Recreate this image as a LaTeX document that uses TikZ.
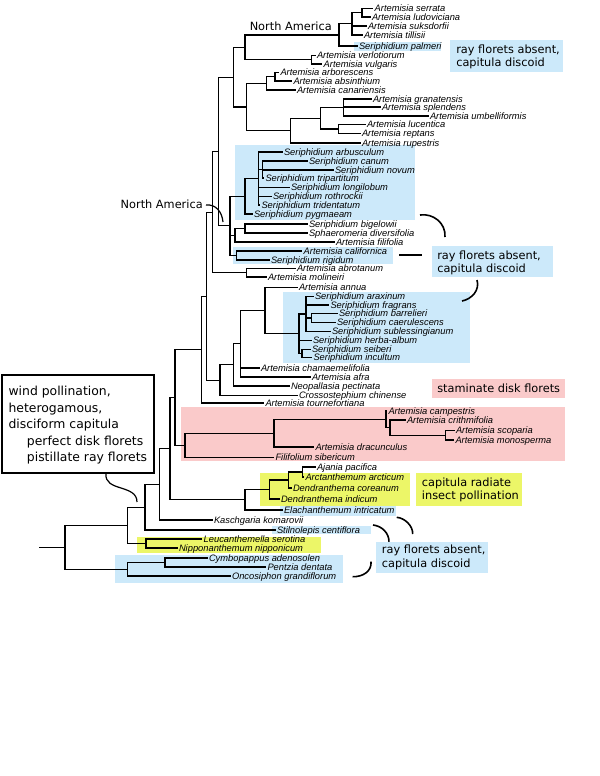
\documentclass[tikz,border=0pt]{standalone}
\usepackage{fontspec}
\setmainfont{Liberation Sans}
\newfontfamily\labfont{DejaVu Sans}
\definecolor{bluebg}{RGB}{204,233,250}
\definecolor{pinkbg}{RGB}{250,202,202}
\definecolor{yelbg}{RGB}{236,246,104}
\newcommand\lf[4]{\coordinate (#1) at (#2,#3); \node[tx] (t#1) at ([yshift=-2.3pt]#1) {#4};}
\newcommand\nd[3]{\coordinate (#1) at (#2,#3);}
\newcommand\clade[4]{\draw[br] (#1 |- #2) -- (#1 |- #3); \foreach \c in {#4}{\draw[br] (#1 |- \c) -- (\c);}}
\begin{document}
\begin{tikzpicture}[x=0.75pt,y=-0.75pt,
  br/.style={line width=0.85pt,line cap=rect},
  tx/.style={anchor=base west,inner xsep=1.3pt,inner ysep=0pt,font=\fontsize{7}{8}\selectfont\itshape},
  lbl/.style={anchor=west,align=left,inner sep=0pt,font=\labfont\fontsize{8.5}{10}\selectfont},
  crv/.style={line width=1.2pt}]
\useasboundingbox (0,0) rectangle (600,776);
% background boxes
\fill[bluebg] (354,42) rectangle (441,51);
\fill[bluebg] (235,145) rectangle (415,220);
\fill[bluebg] (233,246.5) rectangle (393,264);
\fill[bluebg] (283,292) rectangle (470,363);
\fill[pinkbg] (181,407) rectangle (565,461);
\fill[yelbg] (260,473) rectangle (410,506);
\fill[bluebg] (280,506) rectangle (396,516);
\fill[bluebg] (272,526) rectangle (371,534);
\fill[yelbg] (137,537) rectangle (321,553);
\fill[bluebg] (115,555) rectangle (343,583);
% labels
\fill[bluebg] (450,40) rectangle (563,72);
\node[lbl] (lab1) at (456,56.7) {ray florets absent,\\capitula discoid};
\fill[bluebg] (432,246) rectangle (553,277);
\node[lbl] (lab2) at (437,263) {ray florets absent,\\capitula discoid};
\fill[pinkbg] (432,379) rectangle (565,398);
\node[lbl] (lab3) at (437,388.5) {staminate disk florets};
\fill[yelbg] (416,473) rectangle (522,506);
\node[lbl] (lab4) at (421.7,490) {capitula radiate\\insect pollination};
\fill[bluebg] (376,542) rectangle (488,573);
\node[lbl] (lab5) at (381.7,557.2) {ray florets absent,\\capitula discoid};
\draw[line width=0.9pt,fill=white] (2,375) rectangle (154,473);
\node[lbl,font=\labfont\fontsize{9.3}{12.4}\selectfont] (lab6) at (8.3,425.3)
 {wind pollination,\\heterogamous,\\disciform capitula\\\hspace*{13.8pt}perfect disk florets\\\hspace*{13.8pt}pistillate ray florets};
\node[lbl,anchor=west] (na1) at (249.5,26.7) {North America};
\node[lbl,anchor=east] (na2) at (203,204.5) {North America};
% leaves
\lf{s1}{372.7}{8.5}{Artemisia serrata}
\lf{s2}{370}{17}{Artemisia ludoviciana}
\lf{s3}{366}{26}{Artemisia suksdorfii}
\lf{s4}{362}{35}{Artemisia tillisii}
\lf{s5}{357}{46}{Seriphidium palmeri}
\lf{s6}{315}{55.5}{Artemisia verlotiorum}
\lf{s7}{321.7}{64}{Artemisia vulgaris}
\lf{s8}{278.5}{72.5}{Artemisia arborescens}
\lf{s9}{291.5}{81}{Artemisia absinthium}
\lf{s10}{295}{90}{Artemisia canariensis}
\lf{s11}{371}{99}{Artemisia granatensis}
\lf{s12}{380}{107}{Artemisia splendens}
\lf{s13}{428}{116}{Artemisia umbelliformis}
\lf{s14}{365}{124.5}{Artemisia lucentica}
\lf{s15}{360}{133.5}{Artemisia reptans}
\lf{s16}{360}{143}{Artemisia rupestris}
\lf{s17}{282}{152}{Seriphidium arbusculum}
\lf{s18}{307}{161}{Seriphidium canum}
\lf{s19}{333}{170}{Seriphidium novum}
\lf{s20}{263.5}{178}{Seriphidium tripartitum}
\lf{s21}{289}{187.5}{Seriphidium longilobum}
\lf{s22}{271}{196.5}{Seriphidium rothrockii}
\lf{s23}{259.5}{205}{Seriphidium tridentatum}
\lf{s24}{252}{214}{Seriphidium pygmaeam}
\lf{s25}{307}{224}{Seriphidium bigelowii}
\lf{s26}{307}{233}{Sphaeromeria diversifolia}
\lf{s27}{334}{242}{Artemisia filifolia}
\lf{s28}{301.7}{251}{Artemisia californica}
\lf{s29}{269}{260}{Seriphidium rigidum}
\lf{s30}{295}{268.5}{Artemisia abrotanum}
\lf{s31}{266}{277}{Artemisia molineiri}
\lf{s32}{297}{287.5}{Artemisia annua}
\lf{s33}{313}{296.5}{Seriphidium araxinum}
\lf{s34}{328.5}{305}{Seriphidium fragrans}
\lf{s35}{337}{313.5}{Seriphidium barrelieri}
\lf{s36}{335}{322.5}{Seriphidium caerulescens}
\lf{s37}{330}{331.5}{Seriphidium sublessingianum}
\lf{s38}{311}{340.5}{Seriphidium herba-album}
\lf{s39}{310}{349.3}{Seriphidium seiberi}
\lf{s40}{311.5}{357.5}{Seriphidium incultum}
\lf{s41}{259}{368}{Artemisia chamaemelifolia}
\lf{s42}{310}{377}{Artemisia afra}
\lf{s43}{289}{386}{Neopallasia pectinata}
\lf{s44}{297}{395.5}{Crossostephium chinense}
\lf{s45}{263.5}{403}{Artemisia tournefortiana}
\lf{s46}{386.5}{411}{Artemisia campestris}
\lf{s47}{405}{420}{Artemisia crithmifolia}
\lf{s48}{454}{430.5}{Artemisia scoparia}
\lf{s49}{453.5}{440}{Artemisia monosperma}
\lf{s50}{313.5}{447}{Artemisia dracunculus}
\lf{s51}{273.5}{457.5}{Filifolium sibericum}
\lf{s52}{315}{467}{Ajania pacifica}
\lf{s53}{303.5}{477}{Arctanthemum arcticum}
\lf{s54}{291}{488}{Dendranthema coreanum}
\lf{s55}{279}{499}{Dendranthema indicum}
\lf{s56}{282}{510}{Elachanthemum intricatum}
\lf{s57}{212}{520}{Kaschgaria komarovii}
\lf{s58}{275}{530}{Stilnolepis centiflora}
\lf{s59}{201.7}{539}{Leucanthemella serotina}
\lf{s60}{177}{548}{Nipponanthemum nipponicum}
\lf{s61}{207}{558}{Cymbopappus adenosolen}
\lf{s62}{265.5}{567}{Pentzia dentata}
\lf{s63}{230}{576}{Oncosiphon grandiflorum}
% internal nodes
\nd{nA}{362}{12.75}
\nd{nB}{352}{23.9}
\nd{nC}{339}{35}
\nd{nD}{311.7}{59.75}
\nd{nE}{245}{47.4}
\nd{nFa}{275}{76.75}
\nd{nFb}{266.7}{83.4}
\nd{nGr}{343.3}{107.5}
\nd{nLu}{338.3}{129}
\nd{nMa}{320.7}{118.25}
\nd{nMb}{290.7}{130.6}
\nd{nG}{246.7}{107}
\nd{nH}{233.3}{77.2}
\nd{nSb}{262.7}{169.5}
\nd{nSc}{258.3}{178.5}
\nd{nSd}{245}{196.25}
\nd{nBa}{245}{228.5}
\nd{nBg}{235}{235.25}
\nd{nCa}{236.7}{255.5}
\nd{nJ}{230}{225.9}
\nd{nI}{218.3}{151.5}
\nd{nAb}{246.5}{272.75}
\nd{nK}{212.7}{212.1}
\nd{nBC}{311.7}{318}
\nd{nSa}{306}{314}
\nd{nSf}{302}{353.4}
\nd{nSe}{299}{333.7}
\nd{nAN}{265}{310.6}
\nd{nTa}{240.5}{343.8}
\nd{nTb}{233.3}{364.9}
\nd{nTc}{220}{380.2}
\nd{nTd}{206.7}{296.2}
\nd{nTe}{201.7}{349.6}
\nd{nCc}{445.7}{435.25}
\nd{nCb}{390}{427.6}
\nd{nCa2}{386}{419.3}
\nd{nDa}{274}{433.2}
\nd{nDb}{185}{445.3}
\nd{nP}{175}{397.5}
\nd{nNa}{302.7}{472}
\nd{nNb}{288.3}{480}
\nd{nNc}{269.3}{489.5}
\nd{nNd}{245}{499.75}
\nd{nR}{170}{448.6}
\nd{nUa}{159.3}{484.3}
\nd{nUb}{145}{507.2}
\nd{nLN}{146}{543.5}
\nd{nUc}{127.7}{525.3}
\nd{nCYa}{165}{562.5}
\nd{nCY}{127.7}{569.2}
\nd{nRoot}{65}{547.3}
\nd{nBase}{39.3}{547.3}
% clades
\clade{nA}{s1}{s2}{s1,s2}
\clade{nB}{nA}{s4}{nA,s3,s4}
\clade{nC}{nB}{s5}{nB,s5}
\clade{nD}{s6}{s7}{s6,s7}
\clade{nE}{nC}{nD}{nC,nD}
\clade{nFa}{s8}{s9}{s8,s9}
\clade{nFb}{nFa}{s10}{nFa,s10}
\clade{nGr}{s11}{s13}{s11,s12,s13}
\clade{nLu}{s14}{s15}{s14,s15}
\clade{nMa}{nGr}{nLu}{nGr,nLu}
\clade{nMb}{nMa}{s16}{nMa,s16}
\clade{nG}{nFb}{nMb}{nFb,nMb}
\clade{nH}{nE}{nG}{nE,nG}
\clade{nSb}{s18}{s20}{s18,s19,s20}
\clade{nSc}{s17}{s23}{s17,nSb,s21,s22,s23}
\clade{nSd}{nSc}{s24}{nSc,s24}
\clade{nBa}{s25}{s26}{s25,s26}
\clade{nBg}{nBa}{s27}{nBa,s27}
\clade{nCa}{s28}{s29}{s28,s29}
\clade{nJ}{nSd}{nCa}{nSd,nBg,nCa}
\clade{nI}{nH}{nJ}{nH,nJ}
\clade{nAb}{s30}{s31}{s30,s31}
\clade{nK}{nI}{nAb}{nI,nAb}
\clade{nBC}{s35}{s36}{s35,s36}
\clade{nSa}{s33}{s37}{s33,s34,nBC,s37}
\clade{nSf}{s39}{s40}{s39,s40}
\clade{nSe}{nSa}{nSf}{nSa,s38,nSf}
\clade{nAN}{s32}{nSe}{s32,nSe}
\clade{nTa}{nAN}{s42}{nAN,s41,s42}
\clade{nTb}{nTa}{s43}{nTa,s43}
\clade{nTc}{nTb}{s44}{nTb,s44}
\clade{nTd}{nK}{nTc}{nK,nTc}
\clade{nTe}{nTd}{s45}{nTd,s45}
\clade{nCc}{s48}{s49}{s48,s49}
\clade{nCb}{s47}{nCc}{s47,nCc}
\clade{nCa2}{s46}{nCb}{s46,nCb}
\clade{nDa}{nCa2}{s50}{nCa2,s50}
\clade{nDb}{nDa}{s51}{nDa,s51}
\clade{nP}{nTe}{nDb}{nTe,nDb}
\clade{nNa}{s52}{s53}{s52,s53}
\clade{nNb}{nNa}{s54}{nNa,s54}
\clade{nNc}{nNb}{s55}{nNb,s55}
\clade{nNd}{nNc}{s56}{nNc,s56}
\clade{nR}{nP}{nNd}{nP,nNd}
\clade{nUa}{nR}{s57}{nR,s57}
\clade{nUb}{nUa}{s58}{nUa,s58}
\clade{nLN}{s59}{s60}{s59,s60}
\clade{nUc}{nUb}{nLN}{nUb,nLN}
\clade{nCYa}{s61}{s62}{s61,s62}
\clade{nCY}{nCYa}{s63}{nCYa,s63}
\clade{nRoot}{nUc}{nCY}{nUc,nCY}
\draw[br] (nBase) -- (nRoot);
% bracket curves
\coordinate (c1a) at (420,215); \coordinate (c1b) at (445,237);
\draw[crv] (c1a) .. controls (433,213) and (446,223) .. (c1b);
\coordinate (c2a) at (399,255); \coordinate (c2b) at (422,255);
\draw[crv] (c2a) -- (c2b);
\coordinate (c3a) at (477,280); \coordinate (c3b) at (462,301);
\draw[crv] (c3a) .. controls (480,290) and (472,299) .. (c3b);
\coordinate (c4a) at (396.7,517.3); \coordinate (c4b) at (412.7,534);
\draw[crv] (c4a) .. controls (405,518) and (413,526) .. (c4b);
\coordinate (c5a) at (373,525); \coordinate (c5b) at (389,541.7);
\draw[crv] (c5a) .. controls (382,526) and (389,533) .. (c5b);
\coordinate (c6a) at (371,561.7); \coordinate (c6b) at (352.7,576.7);
\draw[crv] (c6a) .. controls (372,571) and (363,577) .. (c6b);
\coordinate (c7a) at (106,473.5); \coordinate (c7b) at (137,502);
\draw[line width=0.9pt] (c7a) .. controls (104,492) and (137,484) .. (c7b);
\coordinate (c8a) at (206,205); \coordinate (c8b) at (223,222);
\draw[line width=0.9pt] (c8a) .. controls (216,204) and (222,212) .. (c8b);
\end{tikzpicture}
\end{document}
